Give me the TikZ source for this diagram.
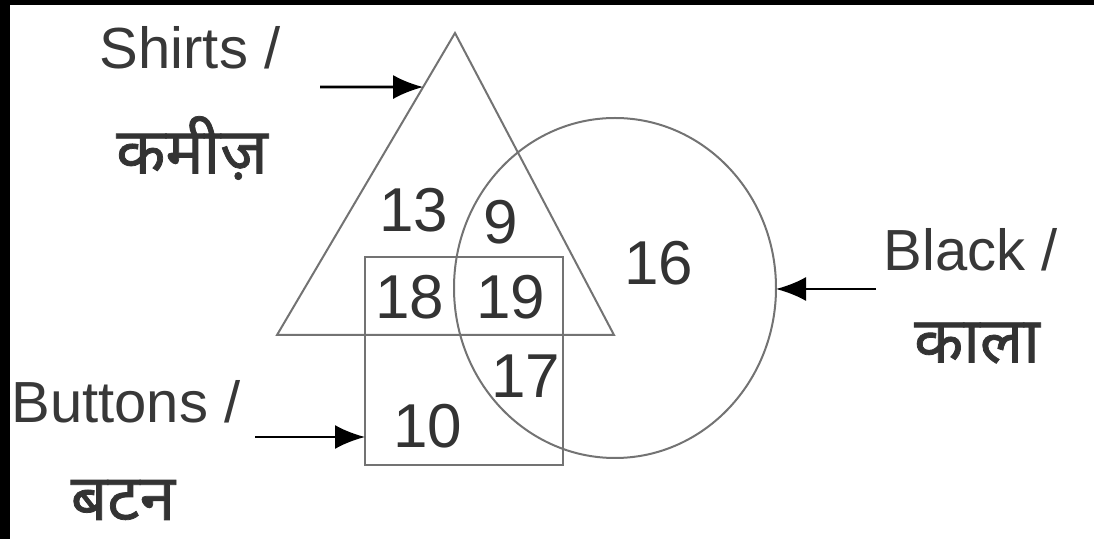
\documentclass[tikz,border=0pt]{standalone}
\usepackage{fontspec}
\setmainfont{Liberation Sans}
\newfontfamily\devfont[Script=Devanagari,FakeBold=1.2]{Noto Sans}
\usetikzlibrary{arrows.meta,positioning,calc,shapes.geometric}

\begin{document}
\begin{tikzpicture}[x=0.5pt,y=-0.5pt,
  lbl/.style={text=black!78, inner sep=0pt, font=\fontsize{29}{34}\selectfont},
  hindi/.style={text=black!80, inner sep=0pt, font=\devfont\bfseries\fontsize{32}{38}\selectfont},
  num/.style={text=black!80, inner sep=0pt, font=\fontsize{31}{36}\selectfont},
  setline/.style={draw=black!55, line width=1pt},
  pointer/.style={-{Latex[length=15pt,width=12pt]}, line width=1.3pt}]
  \useasboundingbox (0,0) rectangle (1094,539);
  % scan border
  \fill[black] (0,0) rectangle (1094,5);
  \fill[black] (0,0) rectangle (10,539);

  % Sets
  \coordinate (apex) at (455,33);
  \coordinate (baseL) at (277,335);
  \coordinate (baseR) at (614,335);
  \draw[setline] (apex) -- (baseL) -- (baseR) -- cycle;
  \node[setline, ellipse, minimum width=161pt, minimum height=170pt, inner sep=0pt, outer sep=0pt] (black) at (615,288) {};
  \node[setline, rectangle, minimum width=99pt, minimum height=104pt, inner sep=0pt, outer sep=0pt] (buttons) at (464,361) {};

  % Region counts
  \node[num] (n13) at (414,210) {13};
  \node[num] (n9) at (501,222) {9};
  \node[num] (n18) at (410,297) {18};
  \node[num] (n19) at (511,297) {19};
  \node[num] (n16) at (659,263) {16};
  \node[num] (n17) at (526,376) {17};
  \node[num] (n10) at (428,426) {10};

  % Labels
  \node[lbl] (shirtsEn) at (190,48) {Shirts /};
  \node[hindi] (shirtsHi) at (192,148) {कमीज़};
  \node[lbl] (buttonsEn) at (126,402) {Buttons /};
  \node[hindi] (buttonsHi) at (123,500) {बटन};
  \node[lbl] (blackEn) at (971,250) {Black /};
  \node[hindi] (blackHi) at (977,343) {काला};

  % Pointers
  \coordinate (shirtsTail) at (320,87);
  \coordinate (buttonsTail) at (255,437);
  \coordinate (blackTail) at (876,289);
  \draw[pointer] (shirtsTail) -- ($(apex)!0.179!(baseL)$);
  \draw[pointer] (buttonsTail) -- (buttons.west |- buttonsTail);
  \draw[pointer] (blackTail) -- (black.east |- blackTail);
\end{tikzpicture}
\end{document}
